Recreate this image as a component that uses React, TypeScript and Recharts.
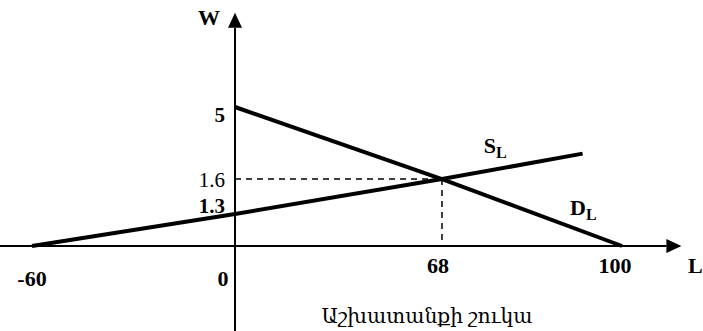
import { LineChart, Line, XAxis, YAxis, ReferenceLine, ReferenceDot } from "recharts"

// labour demand D_L and supply S_L (W = wage, L = labour)
const demandL = [0, 68, 100]
const demandW = [5, 1.6, 0]
const supplyL = [-60, 0, 68, 93]
const supplyW = [0, 1.3, 1.6, 2.8]

const xTicks = [-60, 0, 68, 100]
const yTicks = [5, 1.6, 1.3]
const eqL = 68
const eqW = 1.6
const title = "Աշխատանքի շուկա"

const demand = demandL.map((L, i) => ({ L, W: demandW[i] }))
const supply = supplyL.map((L, i) => ({ L, W: supplyW[i] }))

// the sketch is not drawn to scale, so each axis is a broken (piecewise linear) scale:
// stop values and where they sit as a share of the axis length
const xStops = [-70, -60, 0, 68, 100, 115]
const xFracs = [0, 0.0455, 0.3343, 0.6287, 0.8848, 1]
const yStops = [0, 1.3, 1.6, 5, 10]
const yFracs = [0, 0.13, 0.272, 0.565, 1]

function brokenScale(stops: number[], fracs: number[]): any {
  let dom = [stops[0], stops[stops.length - 1]]
  let rng = [0, 1]
  const scale: any = (v: number) => {
    let i = 0
    while (i < stops.length - 2 && v > stops[i + 1]) i++
    const t = (v - stops[i]) / (stops[i + 1] - stops[i])
    const f = fracs[i] + t * (fracs[i + 1] - fracs[i])
    return rng[0] + f * (rng[1] - rng[0])
  }
  scale.domain = (d?: number[]) => {
    if (!d) return dom.slice()
    dom = d.slice()
    return scale
  }
  scale.range = (r?: number[]) => {
    if (!r) return rng.slice()
    rng = r.slice()
    return scale
  }
  scale.copy = () => brokenScale(stops, fracs).domain(dom).range(rng)
  scale.ticks = () => stops.slice()
  scale.tickFormat = () => (v: number) => String(v)
  return scale
}

const xScale = brokenScale(xStops, xFracs)
const yScale = brokenScale(yStops, yFracs)

const font = '"Liberation Serif", "Times New Roman", "DejaVu Serif", serif'

// small nudges so labels sit like in the original sketch
const xNudge: Record<string, [number, number]> = {
  "-60": [0, 32],
  "0": [-12, 32],
  "68": [-4, 19],
  "100": [-7, 19],
}
const yNudge: Record<string, number> = { "5": 7.5, "1.6": 0.5, "1.3": -8.5 }

function XTick(props: any) {
  const { x, y, payload } = props
  const [dx, dy] = xNudge[String(payload.value)] ?? [0, 20]
  return (
    <text x={x + dx} y={y + dy} textAnchor="middle" dominantBaseline="central"
      fontFamily={font} fontWeight="bold" fontSize={22} fill="#000">
      {payload.value}
    </text>
  )
}

function YTickLabel(props: any) {
  const vb = props.viewBox ?? { x: props.x, y: props.y }
  const v = String(props.tick)
  return (
    <text x={vb.x - 10} y={vb.y + (yNudge[v] ?? 0)} textAnchor="end" dominantBaseline="central"
      fontFamily={font} fontWeight={v === "1.6" ? "normal" : "bold"} fontSize={21} fill="#000">
      {v}
    </text>
  )
}

function CurveLabel(props: any) {
  const vb = props.viewBox ?? { x: props.x, y: props.y }
  return (
    <text x={vb.x + props.dx} y={vb.y + props.dy} fontFamily={font} fontWeight="bold" fontSize={22} fill="#000">
      <tspan>{props.main}</tspan>
      <tspan fontSize={16} dy={5}>{props.sub}</tspan>
    </text>
  )
}

function ArrowAxis(props: any) {
  const { x1, y1, x2, y2 } = props
  const len = Math.hypot(x2 - x1, y2 - y1) || 1
  const ux = (x2 - x1) / len
  const uy = (y2 - y1) / len
  const head = 15
  const half = 7
  const bx = x2 - ux * head
  const by = y2 - uy * head
  const pts = `${x2},${y2} ${bx - uy * half},${by + ux * half} ${bx + uy * half},${by - ux * half}`
  return (
    <g>
      <line x1={x1} y1={y1} x2={bx} y2={by} stroke="#000" strokeWidth={2} />
      <polygon points={pts} fill="#000" />
    </g>
  )
}

const NoDot = () => <g />

export default function App() {
  return (
    <div style={{ position: "absolute", left: 0, top: 0, background: "#fff" }}>
      <LineChart width={703} height={331} margin={{ top: 0, right: 0, bottom: 0, left: 0 }}>
        <XAxis dataKey="L" type="number" domain={[-70, 115]} scale={xScale} ticks={xTicks} interval={0}
          axisLine={false} tickLine={false} tickSize={0} tickMargin={0} height={85} tick={<XTick />} />
        <YAxis dataKey="W" type="number" domain={[0, 10]} scale={yScale} hide />

        <ReferenceLine segment={[{ x: -70, y: 0 }, { x: 111, y: 0 }]} ifOverflow="visible" shape={<ArrowAxis />} />
        <ReferenceLine segment={[{ x: 0, y: -4 }, { x: 0, y: 9.4 }]} ifOverflow="visible" shape={<ArrowAxis />} />

        <ReferenceLine segment={[{ x: 0, y: eqW }, { x: eqL, y: eqW }]} ifOverflow="visible"
          stroke="#000" strokeWidth={1.5} strokeDasharray="6 5" />
        <ReferenceLine segment={[{ x: eqL, y: eqW }, { x: eqL, y: 0 }]} ifOverflow="visible"
          stroke="#000" strokeWidth={1.5} strokeDasharray="6 5" />

        <Line data={supply} dataKey="W" type="linear" stroke="#000" strokeWidth={4} strokeLinecap="butt"
          dot={false} activeDot={false} isAnimationActive={false} />
        <Line data={demand} dataKey="W" type="linear" stroke="#000" strokeWidth={4} strokeLinecap="butt"
          dot={false} activeDot={false} isAnimationActive={false} />

        {yTicks.map((t) => (
          <ReferenceDot key={t} x={0} y={t} r={0} shape={NoDot} ifOverflow="visible"
            label={<YTickLabel tick={t} />} />
        ))}
        <ReferenceDot x={supplyL[supplyL.length - 1]} y={supplyW[supplyW.length - 1]} r={0} shape={NoDot}
          ifOverflow="visible" label={<CurveLabel main="S" sub="L" dx={-99} dy={-1} />} />
        <ReferenceDot x={demandL[demandL.length - 1]} y={demandW[demandW.length - 1]} r={0} shape={NoDot}
          ifOverflow="visible" label={<CurveLabel main="D" sub="L" dx={-52} dy={-31} />} />

        <text x={198} y={25} fontFamily={font} fontWeight="bold" fontSize={22} fill="#000">W</text>
        <text x={688} y={273} fontFamily={font} fontWeight="bold" fontSize={22} fill="#000">L</text>
        <text x={427} y={323} textAnchor="middle" fontFamily={font} fontSize={20} fill="#000"
          textLength={211} lengthAdjust="spacingAndGlyphs">{title}</text>
      </LineChart>
    </div>
  )
}
